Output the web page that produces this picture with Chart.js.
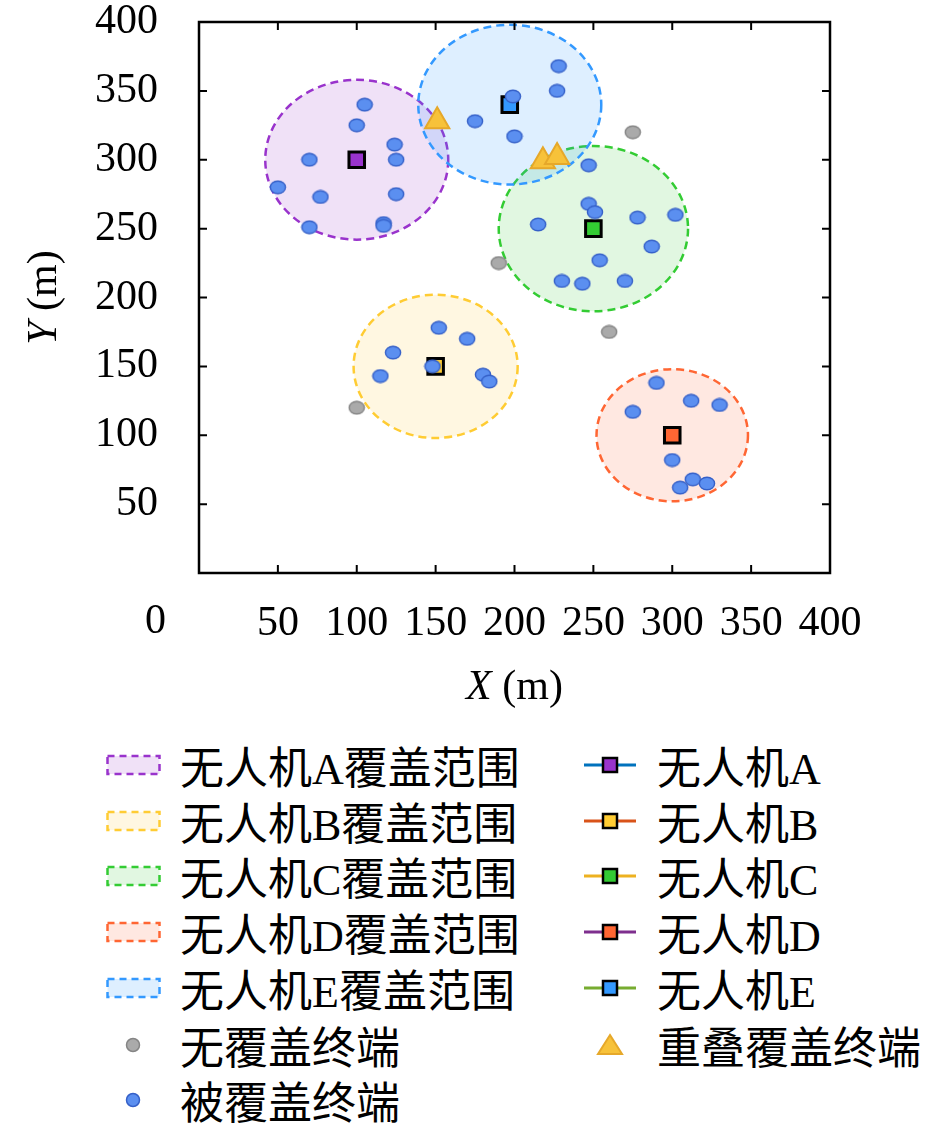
<!DOCTYPE html>
<html>
<head>
<meta charset="utf-8">
<script src="https://cdn.jsdelivr.net/npm/chart.js@4.4.1/dist/chart.umd.min.js"></script>
<style>
  body { margin: 0; background: #fff; }
  #wrap { position: relative; width: 945px; height: 1128px; }
  #chart { position: absolute; left: 0; top: 0; }
  .row { position: absolute; height: 54px; display: flex; align-items: center;
         font-family: "Liberation Serif", "Noto Sans CJK SC", serif; font-size: 44px; color: #000; white-space: nowrap; }
  .row svg { flex: none; }
</style>
</head>
<body>
<div id="wrap">
  <canvas id="chart" width="945" height="720"></canvas>
  <div id="legend"></div>
</div>
<script>
// UAV positions and coverage radius (m)
const uavNames = ['A', 'B', 'C', 'D', 'E'];
const uavX = [100, 150, 250, 300, 197];
const uavY = [300, 150, 250, 100, 340];
const coverRadius = [58, 52, 60, 48, 58];

// terminals inside one coverage area
const coveredX = [105, 100, 124, 70, 125, 50, 77, 125, 70, 117, 117,
                  199, 175, 200, 228, 227,
                  247, 247, 251, 215, 278, 302, 287, 254, 230, 243, 270,
                  152, 170, 123, 115, 148, 180, 184,
                  290, 275, 312, 330, 300, 313, 305, 322];
const coveredY = [340, 325, 311, 300, 300, 280, 273, 275, 251, 254, 252,
                  346, 328, 317, 368, 350,
                  296, 268, 262, 253, 258, 260, 237, 227, 212, 210, 212,
                  178, 170, 160, 143, 150, 144, 139,
                  138, 117, 125, 122, 82, 68, 62, 65];

// terminals outside all areas
const uncoveredX = [275, 190, 260, 100];
const uncoveredY = [320, 225, 175, 120];

// terminals in two areas
const overlapX = [151, 218, 227];
const overlapY = [328, 299, 302];

const axisTicks = [0, 50, 100, 150, 200, 250, 300, 350, 400];

// styles
const uavFill = ['#9933CC', '#FFCC33', '#33CC33', '#FF6633', '#3399FF'];
const coverFill = ['rgba(153,51,204,0.15)', 'rgba(255,204,51,0.15)', 'rgba(51,204,51,0.15)',
                   'rgba(255,102,51,0.15)', 'rgba(51,153,255,0.16)'];
const legendLine = ['#0072BD', '#D95319', '#EDB120', '#7E2F8E', '#77AC30'];
const serif = '"Liberation Serif", "DejaVu Serif", serif';

function dotImage(fill, stroke)
{
    const c = document.createElement('canvas');
    c.width = 18; c.height = 15;
    const g = c.getContext('2d');
    g.beginPath();
    g.ellipse(9, 7.5, 7.6, 6.3, 0, 0, Math.PI * 2);
    g.fillStyle = fill;
    g.fill();
    g.lineWidth = 1.4;
    g.strokeStyle = stroke;
    g.stroke();
    return c;
}

function toPoints(xs, ys)
{
    return xs.map((v, i) => ({x: v, y: ys[i]}));
}

const coveragePlugin = {
    id: 'coverage',
    beforeDatasetsDraw(chart) {
        const {ctx, chartArea, scales: {x, y}} = chart;
        ctx.save();
        ctx.beginPath();
        ctx.rect(chartArea.left, chartArea.top, chartArea.width, chartArea.height);
        ctx.clip();
        for (let i = 0; i < uavX.length; i++) {
            const px = x.getPixelForValue(uavX[i]);
            const py = y.getPixelForValue(uavY[i]);
            const rx = x.getPixelForValue(uavX[i] + coverRadius[i]) - px;
            const ry = py - y.getPixelForValue(uavY[i] + coverRadius[i]);
            ctx.beginPath();
            ctx.ellipse(px, py, rx, ry, 0, 0, Math.PI * 2);
            ctx.fillStyle = coverFill[i];
            ctx.fill();
            ctx.setLineDash([8, 5]);
            ctx.lineWidth = 2.5;
            ctx.strokeStyle = uavFill[i];
            ctx.stroke();
        }
        ctx.restore();
    }
};

const framePlugin = {
    id: 'frame',
    afterDraw(chart) {
        const {ctx, chartArea: a, scales: {x, y}} = chart;
        ctx.save();
        ctx.strokeStyle = '#000';
        ctx.lineWidth = 2.5;
        ctx.strokeRect(a.left, a.top, a.right - a.left, a.bottom - a.top);
        ctx.lineWidth = 2;
        const len = 8;
        axisTicks.slice(1, -1).forEach(v => {
            const px = x.getPixelForValue(v);
            const py = y.getPixelForValue(v);
            ctx.beginPath();
            ctx.moveTo(px, a.bottom); ctx.lineTo(px, a.bottom - len);
            ctx.moveTo(px, a.top); ctx.lineTo(px, a.top + len);
            ctx.moveTo(a.left, py); ctx.lineTo(a.left + len, py);
            ctx.moveTo(a.right, py); ctx.lineTo(a.right - len, py);
            ctx.stroke();
        });

        // lone origin label
        ctx.fillStyle = '#000';
        ctx.font = '42px ' + serif;
        ctx.textAlign = 'right';
        ctx.textBaseline = 'middle';
        ctx.fillText('0', a.left - 33, 622);

        // axis titles: italic letter + (m)
        function title(letter, cx, cy, rot) {
            ctx.save();
            ctx.translate(cx, cy);
            ctx.rotate(rot);
            ctx.textAlign = 'left';
            ctx.textBaseline = 'middle';
            ctx.font = 'italic 42px ' + serif;
            const w1 = ctx.measureText(letter).width;
            ctx.font = '42px ' + serif;
            const w2 = ctx.measureText(' (m)').width;
            const start = -(w1 + w2) / 2;
            ctx.font = 'italic 42px ' + serif;
            ctx.fillText(letter, start, 0);
            ctx.font = '42px ' + serif;
            ctx.fillText(' (m)', start + w1, 0);
            ctx.restore();
        }
        title('X', (a.left + a.right) / 2, 688, 0);
        title('Y', 45, (a.top + a.bottom) / 2, -Math.PI / 2);
        ctx.restore();
    }
};

const tickFont = {family: serif, size: 42, lineHeight: 1};

new Chart(document.getElementById('chart'), {
    type: 'scatter',
    data: {
        datasets: [
            {
                label: '重叠覆盖终端',
                data: toPoints(overlapX, overlapY),
                pointStyle: 'triangle',
                pointRadius: 14,
                backgroundColor: '#F7C23A',
                borderColor: '#E6A82A',
                borderWidth: 2,
                order: 0,
            },
            {
                label: '被覆盖终端',
                data: toPoints(coveredX, coveredY),
                pointStyle: dotImage('#5B8FF0', '#3560C8'),
                order: 1,
            },
            {
                label: '无覆盖终端',
                data: toPoints(uncoveredX, uncoveredY),
                pointStyle: dotImage('#AAAAAA', '#858585'),
                order: 2,
            },
            ...uavNames.map((n, i) => ({
                label: '无人机' + n,
                data: [{x: uavX[i], y: uavY[i]}],
                pointStyle: 'rect',
                pointRadius: 11,
                backgroundColor: uavFill[i],
                borderColor: '#000',
                borderWidth: 3,
                order: 3,
            })),
        ]
    },
    options: {
        responsive: false,
        animation: false,
        devicePixelRatio: 1,
        layout: {padding: {top: 22, right: 115, left: 0, bottom: 0}},
        plugins: {legend: {display: false}, tooltip: {enabled: false}},
        events: [],
        scales: {
            x: {
                type: 'linear', min: 0, max: 400,
                afterBuildTicks: s => { s.ticks = axisTicks.map(v => ({value: v})); },
                afterFit: s => { s.height = 147; s.paddingLeft = 0; s.paddingRight = 0; },
                ticks: {
                    font: tickFont, color: '#000', padding: 22, maxRotation: 0, autoSkip: false,
                    callback: v => v === 0 ? '' : v,
                },
                grid: {display: false},
                border: {display: false},
            },
            y: {
                type: 'linear', min: 0, max: 400,
                afterBuildTicks: s => { s.ticks = axisTicks.map(v => ({value: v})); },
                afterFit: s => { s.width = 199; s.paddingTop = 0; s.paddingBottom = 0; },
                ticks: {
                    font: tickFont, color: '#000', padding: 33, autoSkip: false,
                    callback: v => v === 0 ? '' : v,
                },
                grid: {display: false},
                border: {display: false},
            }
        }
    },
    plugins: [coveragePlugin, framePlugin]
});

// legend, two columns
const legend = document.getElementById('legend');
function addRow(left, centerY, icon, text, textLeft)
{
    const row = document.createElement('div');
    row.className = 'row';
    row.style.left = left + 'px';
    row.style.top = (centerY - 27) + 'px';
    row.innerHTML = icon + '<span style="margin-left:' + textLeft + 'px">' + text + '</span>';
    legend.appendChild(row);
}
const rowY = [765, 821, 876, 932, 988, 1045, 1100];
uavNames.forEach((n, i) => {
    addRow(106, rowY[i],
        '<svg width="56" height="22"><rect x="1.5" y="2" width="52" height="18" fill="' + coverFill[i] +
        '" stroke="' + uavFill[i] + '" stroke-width="2.5" stroke-dasharray="7 5"/></svg>',
        '无人机' + n + '覆盖范围', 18);
    addRow(584, rowY[i],
        '<svg width="52" height="22"><line x1="0" y1="11" x2="52" y2="11" stroke="' + legendLine[i] +
        '" stroke-width="3"/><rect x="19" y="4" width="14" height="14" fill="' + uavFill[i] +
        '" stroke="#000" stroke-width="2.5"/></svg>',
        '无人机' + n, 21);
});
addRow(106, rowY[5],
    '<svg width="56" height="22"><circle cx="27" cy="11" r="6.5" fill="#AAAAAA" stroke="#858585" stroke-width="1.5"/></svg>',
    '无覆盖终端', 18);
addRow(106, rowY[6],
    '<svg width="56" height="22"><circle cx="27" cy="11" r="6.5" fill="#5B8FF0" stroke="#3560C8" stroke-width="1.5"/></svg>',
    '被覆盖终端', 18);
addRow(584, rowY[5],
    '<svg width="52" height="24"><polygon points="26,2 38,21 14,21" fill="#F7C23A" stroke="#E6A82A" stroke-width="2"/></svg>',
    '重叠覆盖终端', 21);
</script>
</body>
</html>
